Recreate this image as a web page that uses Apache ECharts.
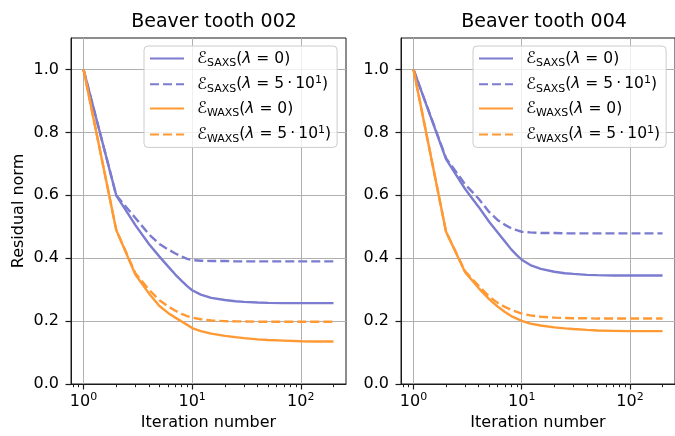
<!DOCTYPE html>
<html>
<head>
<meta charset="utf-8">
<script src="https://cdn.jsdelivr.net/npm/echarts@6/dist/echarts.min.js"></script>
<style>
  html, body { margin: 0; padding: 0; background: #ffffff; }
  #chart { width: 675px; height: 436px; }
</style>
</head>
<body>
<div id="chart"></div>
<script>
// Iteration numbers at which the residual norms are sampled
const iterations = [1, 2, 3, 4, 5, 6, 7, 8, 9, 10, 12, 15, 20, 25, 30, 40, 50, 70, 100, 140, 200];

const panelTitles = ['Beaver tooth 002', 'Beaver tooth 004'];

// Beaver tooth 002
const saxsPlain002 = [1.0, 0.60, 0.505, 0.445, 0.405, 0.374, 0.348, 0.328, 0.311, 0.298, 0.284, 0.274, 0.267, 0.263, 0.261, 0.259, 0.258, 0.257, 0.257, 0.257, 0.257];
const saxsReg002   = [1.0, 0.60, 0.528, 0.476, 0.445, 0.428, 0.415, 0.405, 0.398, 0.394, 0.392, 0.391, 0.391, 0.390, 0.390, 0.390, 0.390, 0.390, 0.390, 0.390, 0.390];
const waxsPlain002 = [1.0, 0.49, 0.348, 0.288, 0.248, 0.226, 0.211, 0.199, 0.188, 0.178, 0.168, 0.160, 0.153, 0.149, 0.146, 0.142, 0.140, 0.138, 0.136, 0.135, 0.135];
const waxsReg002   = [1.0, 0.49, 0.352, 0.300, 0.266, 0.247, 0.233, 0.223, 0.216, 0.211, 0.206, 0.202, 0.200, 0.199, 0.199, 0.198, 0.198, 0.198, 0.198, 0.198, 0.198];

// Beaver tooth 004
const saxsPlain004 = [1.0, 0.715, 0.620, 0.563, 0.516, 0.482, 0.453, 0.428, 0.410, 0.395, 0.378, 0.366, 0.357, 0.352, 0.350, 0.347, 0.346, 0.345, 0.345, 0.345, 0.345];
const saxsReg004   = [1.0, 0.718, 0.635, 0.589, 0.547, 0.521, 0.506, 0.495, 0.489, 0.484, 0.482, 0.480, 0.480, 0.479, 0.479, 0.479, 0.479, 0.479, 0.479, 0.479, 0.479];
const waxsPlain004 = [1.0, 0.484, 0.355, 0.305, 0.270, 0.246, 0.229, 0.216, 0.208, 0.201, 0.192, 0.186, 0.180, 0.177, 0.175, 0.172, 0.170, 0.169, 0.168, 0.168, 0.168];
const waxsReg004   = [1.0, 0.484, 0.358, 0.312, 0.278, 0.258, 0.245, 0.236, 0.229, 0.224, 0.218, 0.214, 0.211, 0.210, 0.209, 0.209, 0.208, 0.208, 0.208, 0.208, 0.208];

const panelSeries = [
  [saxsPlain002, saxsReg002, waxsPlain002, waxsReg002],
  [saxsPlain004, saxsReg004, waxsPlain004, waxsReg004]
];

const seriesNames = ['SAXS, λ = 0', 'SAXS, λ = 50', 'WAXS, λ = 0', 'WAXS, λ = 50'];
const legendText = {
  'SAXS, λ = 0':  '{s| }{e|ℰ}{sub|SAXS}{t|(}{l|λ}{t| = 0)}',
  'SAXS, λ = 50': '{s| }{e|ℰ}{sub|SAXS}{t|(}{l|λ}{t| = 5\u2009·\u200910}{sup|1}{t|)}',
  'WAXS, λ = 0':  '{s| }{e|ℰ}{sub|WAXS}{t|(}{l|λ}{t| = 0)}',
  'WAXS, λ = 50': '{s| }{e|ℰ}{sub|WAXS}{t|(}{l|λ}{t| = 5\u2009·\u200910}{sup|1}{t|)}'
};

const xMajorTicks = [1, 10, 100];
const xMinorTicks = [0.8, 0.9, 2, 3, 4, 5, 6, 7, 8, 9, 20, 30, 40, 50, 60, 70, 80, 90, 200];
const yTicks = [0, 0.2, 0.4, 0.6, 0.8, 1.0];

const BLUE = '#7b7bd0';
const ORANGE = '#ff9933';
const FONT = 'DejaVu Sans';
const lineColors = [BLUE, BLUE, ORANGE, ORANGE];
const lineDashes = ['solid', [9, 4], 'solid', [9, 4]];

const X_MIN = 0.767, X_MAX = 260.7;
const panelLeft = [71, 401];
const panelWidth = [275, 276];
const legendLeft = [144, 473];

const grids = [0, 1].map(i => ({
  left: panelLeft[i], top: 38, width: panelWidth[i], height: 349,
  show: true, borderColor: '#1a1a1a', borderWidth: 1, backgroundColor: 'transparent'
}));

const mainX = [0, 1].map(i => ({
  type: 'log', logBase: 10, gridIndex: i, min: X_MIN, max: X_MAX, position: 'bottom',
  axisLine: { show: true, lineStyle: { color: '#1a1a1a', width: 1 } },
  axisTick: { show: true, customValues: xMajorTicks, length: 5.5, lineStyle: { color: '#1a1a1a', width: 1.2 } },
  axisLabel: {
    customValues: xMajorTicks, margin: 8, color: '#000',
    formatter: v => '{b|10}{sup|' + Math.round(Math.log10(v)) + '}',
    rich: {
      b: { fontFamily: FONT, fontSize: 16, color: '#000', lineHeight: 20 },
      sup: { fontFamily: FONT, fontSize: 11, color: '#000', verticalAlign: 'top', lineHeight: 20 }
    }
  },
  splitLine: { show: true, lineStyle: { color: '#b0b0b0', width: 1 } },
  name: 'Iteration number', nameLocation: 'middle', nameGap: 31,
  nameTextStyle: { fontFamily: FONT, fontSize: 16, color: '#000' }
}));

// minor ticks at 2..9 times each power of ten
const minorX = [0, 1].map(i => ({
  type: 'log', logBase: 10, gridIndex: i, min: X_MIN, max: X_MAX, position: 'bottom',
  axisLine: { show: false },
  axisTick: { show: true, customValues: xMinorTicks, length: 3.2, lineStyle: { color: '#1a1a1a', width: 1 } },
  axisLabel: { show: false },
  splitLine: { show: false }
}));

const yAxes = [0, 1].map(i => ({
  type: 'value', gridIndex: i, min: 0, max: 1.1,
  axisLine: { show: true, lineStyle: { color: '#1a1a1a', width: 1 } },
  axisTick: { show: true, customValues: yTicks, length: 5.5, lineStyle: { color: '#1a1a1a', width: 1.2 } },
  axisLabel: {
    customValues: yTicks, margin: 12, fontFamily: FONT, fontSize: 16, color: '#000',
    formatter: v => v.toFixed(1)
  },
  splitLine: { show: true, lineStyle: { color: '#b0b0b0', width: 1 } },
  name: i === 0 ? 'Residual norm' : '', nameLocation: 'middle', nameGap: 44, nameRotate: 90,
  nameTextStyle: { fontFamily: FONT, fontSize: 16, color: '#000' }
}));

const series = [];
[0, 1].forEach(p => {
  panelSeries[p].forEach((vals, k) => {
    series.push({
      type: 'line', name: seriesNames[k], xAxisIndex: p, yAxisIndex: p,
      data: iterations.map((n, j) => [n, vals[j]]),
      symbol: 'none', showSymbol: false, silent: true, animation: false,
      lineStyle: { color: lineColors[k], width: 2.4, type: lineDashes[k] },
      itemStyle: { color: lineColors[k] },
      emphasis: { disabled: true }
    });
  });
});

const legendRich = {
  s: { width: 8, fontSize: 15.5, lineHeight: 20 },
  e: { fontFamily: FONT, fontSize: 16.5, color: '#000', lineHeight: 20 },
  sub: { fontFamily: FONT, fontSize: 11, color: '#000', verticalAlign: 'bottom', lineHeight: 20 },
  t: { fontFamily: FONT, fontSize: 15.5, color: '#000', lineHeight: 20 },
  l: { fontFamily: FONT, fontSize: 15.5, fontStyle: 'italic', color: '#000', lineHeight: 20 },
  sup: { fontFamily: FONT, fontSize: 11, color: '#000', verticalAlign: 'top', lineHeight: 20 }
};

const legends = [0, 1].map(i => ({
  left: legendLeft[i], top: 46, orient: 'vertical',
  data: seriesNames, itemWidth: 34, itemHeight: 14, itemGap: 5.8,
  padding: [4, 6, 3, 5],
  backgroundColor: 'rgba(255,255,255,0.8)', borderColor: '#cccccc', borderWidth: 1, borderRadius: 4,
  selectedMode: false,
  itemStyle: { opacity: 0, borderWidth: 0 },
  formatter: name => legendText[name],
  textStyle: { rich: legendRich }
}));

const titles = [0, 1].map(i => ({
  text: panelTitles[i], left: panelLeft[i] + 138, top: 8, textAlign: 'center',
  textStyle: { fontFamily: FONT, fontSize: 19, fontWeight: 'normal', color: '#000' }
}));

const chart = echarts.init(document.getElementById('chart'), null, { renderer: 'canvas' });
chart.setOption({
  animation: false,
  backgroundColor: '#ffffff',
  title: titles,
  legend: legends,
  grid: grids,
  xAxis: mainX.concat(minorX),
  yAxis: yAxes,
  series: series
});
</script>
</body>
</html>
